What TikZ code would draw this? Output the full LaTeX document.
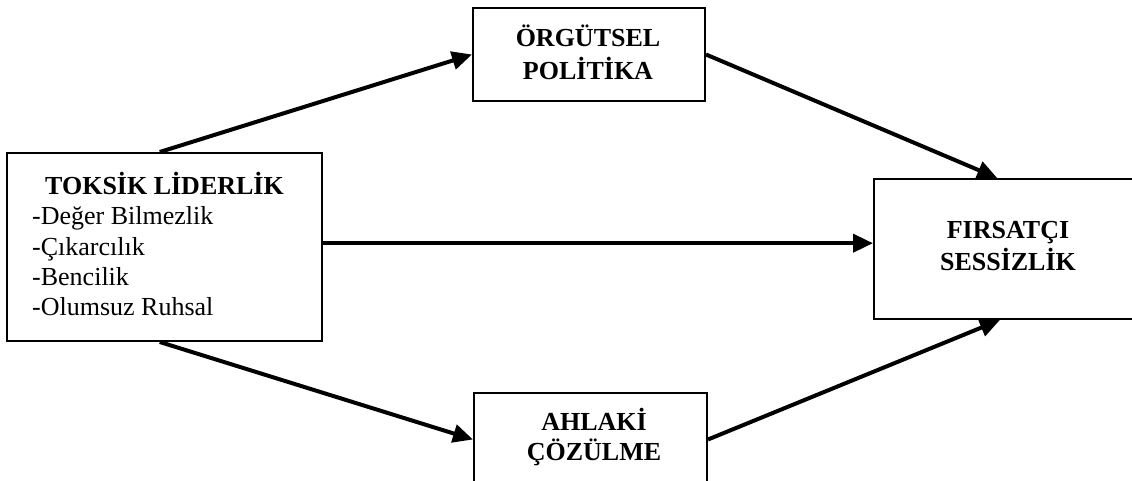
\documentclass[tikz,border=0pt]{standalone}
\usepackage{fontspec}
\setmainfont{Liberation Serif}
\usetikzlibrary{arrows.meta,calc}
\begin{document}
\begin{tikzpicture}[x=1pt,y=-1pt,
  box/.style={draw=black,line width=2pt,rectangle,inner sep=0pt},
  txt/.style={anchor=base,inner sep=0pt,font=\fontsize{26}{30}\selectfont},
  btxt/.style={txt,font=\fontsize{26}{30}\selectfont\bfseries},
  ltxt/.style={txt,anchor=base west},
  conn/.style={line width=4pt,-{Triangle[length=20pt,width=18pt]}}]
\useasboundingbox (0,0) rectangle (1132,481);
\fill[white] (0,0) rectangle (1132,481);
\clip (0,0) rectangle (1132,481);
% boxes
\node[box,minimum width=315pt,minimum height=188pt] (L) at (164.5,247) {};
\node[box,minimum width=232pt,minimum height=93pt] (T) at (589,54.5) {};
\node[box,minimum width=233pt,minimum height=93pt] (B) at (590.5,439.5) {};
\node[box,minimum width=268pt,minimum height=140pt] (R) at (1008,249) {};
% texts
\node[btxt] (l0) at (164.5,195) {TOKSİK LİDERLİK};
\node[ltxt] (l1) at (32,225) {-Değer Bilmezlik};
\node[ltxt] (l2) at (32,255) {-Çıkarcılık};
\node[ltxt] (l3) at (32,285) {-Bencilik};
\node[ltxt] (l4) at (32,315) {-Olumsuz Ruhsal};
\node[btxt] (t1) at (588,47) {ÖRGÜTSEL};
\node[btxt] (t2) at (588,80) {POLİTİKA};
\node[btxt] (r1) at (1008,238) {FIRSATÇI};
\node[btxt] (r2) at (1008,270) {SESSİZLİK};
\node[btxt] (b1) at (594,430) {AHLAKİ};
\node[btxt] (b2) at (594,460) {ÇÖZÜLME};
% connectors
\coordinate (Ln) at ($(L.north west)!0.485!(L.north east)$);
\coordinate (Ls) at ($(L.south west)!0.485!(L.south east)$);
\coordinate (Le) at ($(L.north east)!0.48!(L.south east)$);
\coordinate (Rn) at ($(R.north west)!0.46!(R.north east)$);
\coordinate (Rs) at ($(R.south west)!0.47!(R.south east)$);
\draw[conn] (Ln) -- (T.west);
\draw[conn] (T.east) -- (Rn);
\draw[conn] (Le) -- (Le -| R.west);
\draw[conn] (Ls) -- (B.west);
\draw[conn] (B.east) -- (Rs);
\end{tikzpicture}
\end{document}
